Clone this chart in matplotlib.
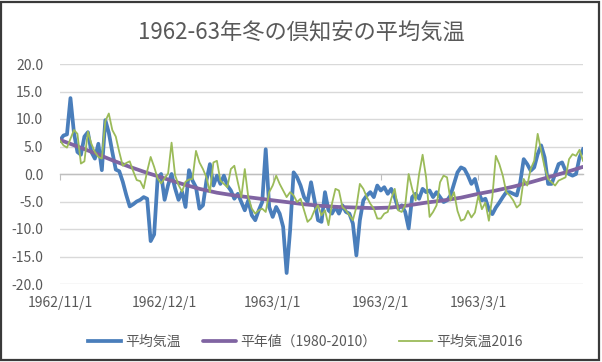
import numpy as np
import pandas as pd
import matplotlib
matplotlib.use("Agg")
import matplotlib.pyplot as plt
import matplotlib.dates as mdates
from matplotlib.ticker import FuncFormatter, MultipleLocator
from matplotlib.patches import Rectangle


# Données (un point par jour, 1962/11/1 -> 1963/3/31)

titre = "1962-63年冬の倶知安の平均気温"
noms_series = ["平均気温", "平年値（1980-2010）", "平均気温2016"]

debut = "1962-11-01"
fin = "1963-03-31"

# 平均気温 (1962-63)
temp_1962 = [
    6.1, 7.0, 7.2, 13.8, 7.5, 4.0, 3.5, 6.8, 7.6, 4.0,
    2.8, 5.5, 0.7, 9.8, 7.5, 4.0, 0.8, 0.5, -1.4, -3.8,
    -5.9, -5.5, -5.0, -4.7, -4.2, -4.5, -12.2, -11.0, -0.8, 0.0,
    -4.7, -2.0, 0.0, -2.6, -4.7, -3.2, -6.0, 0.7, -1.2, -2.4,
    -6.3, -5.7, -1.2, 1.8, -2.1, -0.3, -1.8, -0.3, -2.1, -3.0,
    -4.5, -3.6, -5.1, -6.6, -4.8, -7.5, -8.4, -6.6, -5.1, 4.5,
    -6.0, -7.8, -6.0, -7.2, -9.6, -18.0, -10.2, 0.3, -0.6, -2.1,
    -4.2, -5.1, -1.5, -4.8, -8.4, -8.7, -3.3, -6.6, -7.2, -6.0,
    -7.2, -5.7, -6.9, -7.2, -9.0, -14.8, -8.4, -4.8, -3.9, -3.3,
    -4.2, -2.1, -3.0, -2.4, -3.6, -2.7, -4.2, -6.3, -5.7, -6.9,
    -9.9, -4.2, -3.6, -4.5, -2.7, -3.3, -3.0, -4.2, -3.3, -4.2,
    -5.1, -4.8, -3.9, -1.8, 0.3, 1.2, 0.9, -0.3, -1.8, -0.9,
    -3.3, -4.8, -4.5, -6.4, -7.3, -6.1, -5.2, -4.2, -3.3, -3.3,
    -3.6, -3.9, -1.5, 2.7, 1.8, 0.6, 1.2, 3.6, 5.2, 3.0,
    -1.8, -1.8, 0.0, 1.8, 2.1, 0.6, 0.0, -0.3, 0.0, 3.0,
    4.5,
]

# 平均気温2016
temp_2016 = [
    6.1, 5.2, 4.8, 6.4, 8.0, 7.3, 1.9, 2.3, 7.7, 5.5,
    4.0, 3.1, 2.8, 9.6, 11.0, 8.0, 6.8, 4.0, 1.5, 2.0,
    2.3, 0.5, -1.1, -1.3, -2.6, 0.5, 3.1, 1.3, -0.8, -1.7,
    -0.8, 0.1, 5.7, -0.2, -2.0, -3.2, -1.4, -1.0, -0.9, 4.2,
    2.1, 0.9, -0.6, -3.3, 2.1, 2.4, -1.2, -1.8, -2.4, 0.9,
    1.5, -1.5, -4.2, 0.9, -4.2, -6.3, -7.2, -6.6, -6.3, -6.9,
    -3.3, -2.1, -0.3, -1.8, -3.0, -4.2, -3.3, -3.9, -5.1, -4.5,
    -6.6, -8.7, -8.1, -6.6, -5.7, -7.5, -6.6, -9.3, -5.4, -2.7,
    -3.0, -6.0, -6.6, -7.5, -8.4, -6.0, -1.8, -2.7, -4.2, -5.4,
    -6.3, -8.1, -8.1, -7.2, -6.9, -4.5, -2.7, -6.6, -6.9, -5.7,
    0.0, -2.7, -4.8, 0.0, 3.5, -0.6, -7.8, -6.9, -5.7, -1.5,
    -0.3, -0.6, -4.8, -3.3, -6.7, -8.5, -8.2, -6.7, -7.9, -7.0,
    -3.9, -6.4, -5.2, -8.5, -4.2, 3.3, 1.8, -0.3, -3.3, -3.9,
    -4.8, -6.1, -5.5, -0.9, -2.1, 0.9, 2.4, 7.3, 4.2, 1.2,
    -0.9, -1.5, -2.1, -1.2, -0.9, -0.6, 2.7, 3.6, 3.3, 4.4,
    2.4,
]

# 平年値 (1980-2010), courbe lisse lue tous les 5 jours
normale = [
    6.2, 5.0, 3.8, 2.5, 1.3, 0.2, -0.8, -1.8, -2.7, -3.4,
    -3.9, -4.3, -4.7, -5.1, -5.5, -5.8, -6.0, -6.1, -6.2, -6.1,
    -5.7, -5.2, -4.8, -4.3, -3.6, -3.0, -2.3, -1.5, -0.6, 0.3,
    1.3,
]

jours = pd.date_range(debut, fin, freq="D")
jours_normale = pd.date_range(debut, fin, freq="5D")

# Couleurs (palette Office 2007)
bleu = "#4A7EBB"
violet = "#8064A2"
vert = "#9BBB59"
gris_texte = "#595959"
gris_grille = "#D9D9D9"

plt.rcParams['font.family'] = ['Noto Sans CJK JP', 'DejaVu Sans']

fig = plt.figure(figsize=(6.02, 3.62), dpi=100)
ax = fig.add_axes([60 / 602, 1 - 284 / 362, 523 / 602, 220 / 362])

ax.plot(jours, temp_1962, color=bleu, lw=2.7, solid_joinstyle='round', label=noms_series[0], zorder=3)
ax.plot(jours_normale, normale, color=violet, lw=2.7, solid_capstyle='round', label=noms_series[1], zorder=4)
ax.plot(jours, temp_2016, color=vert, lw=1.3, label=noms_series[2], zorder=5)

# Axes
ax.set_ylim(-20, 20)
ax.set_xlim(jours[0], jours[-1])
ax.yaxis.set_major_locator(MultipleLocator(5))
ax.yaxis.set_major_formatter(FuncFormatter(lambda v, p: f"{v:.1f}"))
ax.xaxis.set_major_locator(mdates.MonthLocator())
ax.xaxis.set_major_formatter(FuncFormatter(
    lambda v, p: "{0}/{1}/{2}".format(mdates.num2date(v).year, mdates.num2date(v).month, mdates.num2date(v).day)))

ax.grid(axis='y', color=gris_grille, lw=1.0)
ax.set_axisbelow(True)

for cote in ['left', 'right', 'bottom']:
    ax.spines[cote].set_visible(False)
# l'axe horizontal passe par 0
ax.spines['top'].set_position(('data', 0))
ax.spines['top'].set_color("#BFBFBF")
ax.spines['top'].set_linewidth(1.0)

ax.tick_params(axis='y', length=0, pad=12, labelsize=10, labelcolor=gris_texte)
ax.tick_params(axis='x', bottom=False, top=True, labeltop=False, labelbottom=True,
               direction='in', length=4, color="#BFBFBF", pad=9, labelsize=10, labelcolor=gris_texte)

# Titre
fig.text(0.5, 1 - 33 / 362, titre, ha='center', va='center', fontsize=16, color=gris_texte)

# Légende
fig.legend(loc='center', bbox_to_anchor=(0.507, 1 - 342 / 362), ncol=3, frameon=False,
           fontsize=10, labelcolor=gris_texte, handlelength=2.4, handletextpad=0.3, columnspacing=1.6)

# Cadre du graphique
fig.patches.append(Rectangle((1 / 602, 2 / 362), 598 / 602, 358 / 362, transform=fig.transFigure,
                             fill=False, edgecolor="#3A3A3A", lw=1.6))

fig.savefig("out.png", dpi=100)
